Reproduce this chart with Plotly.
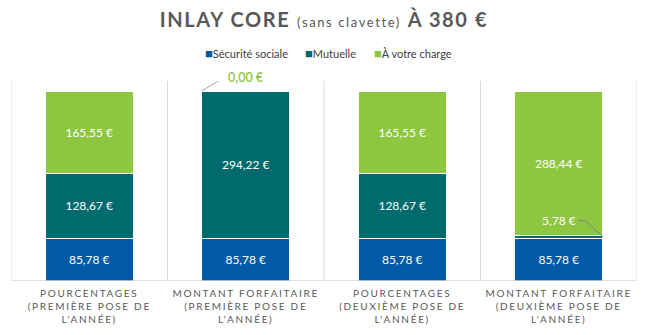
import plotly.graph_objects as go

categories = [
    "POURCENTAGES<br>(PREMIÈRE POSE DE<br>L'ANNÉE)",
    "MONTANT FORFAITAIRE<br>(PREMIÈRE POSE DE<br>L'ANNÉE)",
    "POURCENTAGES<br>(DEUXIÈME POSE DE<br>L'ANNÉE)",
    "MONTANT FORFAITAIRE<br>(DEUXIÈME POSE DE<br>L'ANNÉE)",
]
secu = [85.78, 85.78, 85.78, 85.78]
mutuelle = [128.67, 294.22, 128.67, 5.78]
charge = [165.55, 0.00, 165.55, 288.44]

series_names = ["Sécurité sociale", "Mutuelle", "À votre charge"]
colors = ["#005AA6", "#006B6C", "#8DC63F"]

def fmt(v):
    return f"{v:.2f}".replace(".", ",") + " €"

FONT = "Lato"
x = list(range(len(categories)))
bar_frac = 0.562
half = bar_frac / 2

fig = go.Figure()
for name, vals, col in zip(series_names, [secu, mutuelle, charge], colors):
    texts = [fmt(v) if v >= 20 else "" for v in vals]
    fig.add_trace(go.Bar(
        x=x, y=vals, name=name, marker=dict(color=col, line=dict(color="white", width=1)),
        text=texts, texttemplate="%{text}", textposition="inside", insidetextanchor="middle",
        textangle=0, textfont=dict(color="white", size=12, family=FONT),
        hoverinfo="skip", showlegend=False,
    ))

shapes = []
for i in range(len(categories) + 1):
    shapes.append(dict(type="line", xref="x", yref="paper", x0=i - 0.5, x1=i - 0.5, y0=0, y1=1,
                       line=dict(color="#D9D9D9", width=1), layer="below"))
shapes.append(dict(type="line", xref="paper", yref="y", x0=0, x1=1, y0=0, y1=0,
                   line=dict(color="#D9D9D9", width=1.5)))

annotations = []
tot1 = secu[1] + mutuelle[1] + charge[1]
annotations.append(dict(x=1, y=tot1, xref="x", yref="y", text=fmt(charge[1]), showarrow=False,
                        yshift=14, font=dict(color="#8DC63F", size=12.5, family=FONT, weight=600)))
shapes.append(dict(type="path", xref="x", yref="y",
                   path=f"M {1-half} {tot1} L {1-half+0.121} {tot1+23} L {1-half+0.166} {tot1+23}",
                   line=dict(color="#A6A6A6", width=1)))
ym = secu[3] + mutuelle[3] / 2
annotations.append(dict(x=3, y=ym, xref="x", yref="y", text=fmt(mutuelle[3]), showarrow=False,
                        yshift=16, font=dict(color="white", size=12, family=FONT)))
shapes.append(dict(type="path", xref="x", yref="y",
                   path=f"M {3+0.123} {ym+32} L {3+0.170} {ym+32} L {3+half} {ym}",
                   line=dict(color="#7F7F7F", width=1)))

# legend drawn as text entries
legend_x = [0.306, 0.466, 0.576]
for name, col, lx in zip(series_names, colors, legend_x):
    annotations.append(dict(
        xref="paper", yref="paper", x=lx, y=1.14, xanchor="left", yanchor="middle",
        showarrow=False,
        text=f"<span style='color:{col};font-size:13px'>■</span>{name}",
        font=dict(family=FONT, size=11, color="#404040"),
    ))

fig.update_layout(
    width=648, height=335,
    margin=dict(l=11, r=11, t=81, b=54),
    paper_bgcolor="white", plot_bgcolor="white",
    barmode="stack", bargap=1 - bar_frac,
    title=dict(
        text="<span style='letter-spacing:1.6px'><b>INLAY CORE</b> <span style='font-size:13px'>(sans clavette)</span> <b>À 380 €</b></span>",
        x=0.5, xanchor="center", y=0.94, yanchor="middle",
        font=dict(family=FONT, size=20, color="#595959"),
    ),
    showlegend=False,
    xaxis=dict(
        tickmode="array", tickvals=x,
        ticktext=[f"<span style='letter-spacing:1.7px'>{c}</span>" for c in categories],
        range=[-0.5, len(categories) - 0.5], showgrid=False, zeroline=False, showline=False,
        ticks="", ticklabelstandoff=5, tickfont=dict(family=FONT, size=10, color="#595959"),
    ),
    yaxis=dict(range=[0, 400], visible=False, showgrid=False, zeroline=False),
    shapes=shapes, annotations=annotations,
)

fig.write_html("out.html")
